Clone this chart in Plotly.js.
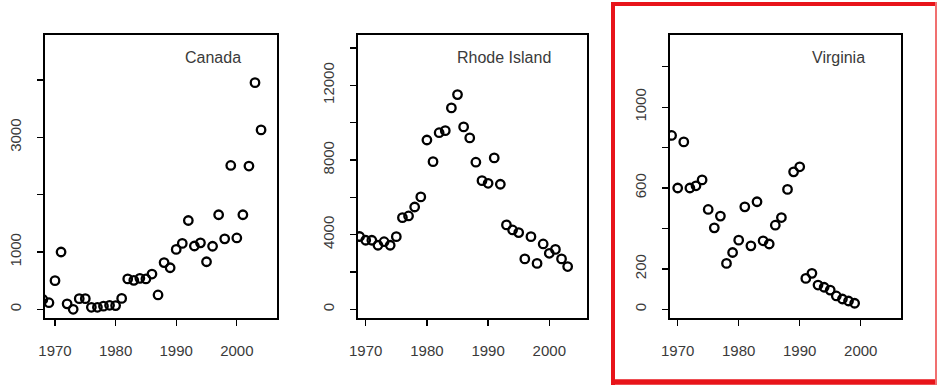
<!DOCTYPE html>
<html>
<head>
<meta charset="utf-8">
<script src="https://cdn.plot.ly/plotly-3.0.1.min.js"></script>
<style>html,body{margin:0;padding:0;background:#fff;}#chart{width:938px;height:387px;}</style>
</head>
<body>
<div id="chart"></div>
<script>
// ---- data ----
const canadaYears = [1968,1969,1970,1971,1972,1973,1974,1975,1976,1977,1978,1979,1980,1981,1982,1983,1984,1985,1986,1987,1988,1989,1990,1991,1992,1993,1994,1995,1996,1997,1998,1999,2000,2001,2002,2003,2004];
const canadaValues = [170,115,500,1000,95,0,185,185,35,35,55,70,65,190,530,505,540,530,615,250,815,725,1045,1150,1550,1105,1160,830,1100,1650,1230,2510,1245,1650,2500,3955,3130];

const rhodeYears = [1969,1970,1971,1972,1973,1974,1975,1976,1977,1978,1979,1980,1981,1982,1983,1984,1985,1986,1987,1988,1989,1990,1991,1992,1993,1994,1995,1996,1997,1998,1999,2000,2001,2002,2003];
const rhodeValues = [3900,3700,3700,3430,3620,3430,3890,4910,5000,5480,6020,9070,7910,9460,9570,10790,11500,9770,9180,7880,6890,6750,8110,6700,4520,4250,4110,2700,3890,2460,3500,3000,3210,2700,2290];

const virginiaYears = [1969,1970,1971,1972,1973,1974,1975,1976,1977,1978,1979,1980,1981,1982,1983,1984,1985,1986,1987,1988,1989,1990,1991,1992,1993,1994,1995,1996,1997,1998,1999];
const virginiaValues = [860,600,828,600,611,640,494,403,461,227,281,342,507,314,532,339,323,416,454,593,680,705,153,178,120,109,95,66,51,41,30];

const panelNames = ["Canada", "Rhode Island", "Virginia"];
const xTickVals = [1970, 1980, 1990, 2000];
const canadaTickVals = [0,1000,2000,3000,4000];
const canadaTickText = ["0","1000","","3000",""];
const rhodeTickVals = [0,2000,4000,6000,8000,10000,12000,14000];
const rhodeTickText = ["0","","4000","","8000","","12000",""];
const virginiaTickVals = [0,200,400,600,800,1000,1200];
const virginiaTickText = ["0","200","","600","","1000",""];

// ---- layout helpers (pixel geometry of the reference) ----
const W = 938, H = 387;
const px = v => v / W;
const py = v => (H - v) / H;
const boxTop = 35, boxBottom = 318;

const marker = {symbol: 'circle-open', size: 8.5, color: '#000', line: {width: 2.3, color: '#000'}};
const tickFont = {family: 'Liberation Sans, Arial, sans-serif', size: 15, color: '#3a3a3a'};

function xaxis(domain, range) {
  return {domain: domain, range: range, tickmode: 'array', tickvals: xTickVals,
    ticks: 'outside', ticklen: 6, tickwidth: 1.3, tickcolor: '#000',
    showline: true, mirror: true, linecolor: '#000', linewidth: 1.6,
    showgrid: false, zeroline: false, tickfont: tickFont, ticklabelstandoff: 12, fixedrange: true};
}
function yaxis(range, vals, text) {
  return {domain: [py(boxBottom), py(boxTop)], range: range, tickmode: 'array', tickvals: vals, ticktext: text,
    tickangle: -90, ticks: 'outside', ticklen: 6, tickwidth: 1.3, tickcolor: '#000',
    showline: true, mirror: true, linecolor: '#000', linewidth: 1.6,
    showgrid: false, zeroline: false, tickfont: tickFont, ticklabelstandoff: 10, fixedrange: true};
}

const traces = [
  {x: canadaYears, y: canadaValues, type: 'scatter', mode: 'markers', marker: marker, xaxis: 'x', yaxis: 'y', hoverinfo: 'x+y'},
  {x: rhodeYears, y: rhodeValues, type: 'scatter', mode: 'markers', marker: marker, xaxis: 'x2', yaxis: 'y2', hoverinfo: 'x+y'},
  {x: virginiaYears, y: virginiaValues, type: 'scatter', mode: 'markers', marker: marker, xaxis: 'x3', yaxis: 'y3', hoverinfo: 'x+y'}
];

const boxRights = [277, 587, 901];
const annFont = {family: 'Liberation Sans, Arial, sans-serif', size: 16, color: '#3a3a3a'};
const annotations = panelNames.map((n, i) => ({
  text: n, xref: 'paper', yref: 'paper', x: px(boxRights[i] - 34), y: py(57.5),
  xanchor: 'right', yanchor: 'middle', showarrow: false, font: annFont
}));

const red = '#e8141a';
const shapes = [
  {type: 'line', xref: 'paper', yref: 'paper', x0: px(613), x1: px(613), y0: py(2), y1: py(385), line: {color: red, width: 4}},
  {type: 'line', xref: 'paper', yref: 'paper', x0: px(611), x1: px(937), y0: py(4), y1: py(4), line: {color: red, width: 4}},
  {type: 'line', xref: 'paper', yref: 'paper', x0: px(611), x1: px(937), y0: py(382), y1: py(382), line: {color: red, width: 5.5}},
  {type: 'line', xref: 'paper', yref: 'paper', x0: px(936), x1: px(936), y0: py(2), y1: py(385), line: {color: '#f07070', width: 2}}
];

const layout = {
  width: W, height: H, margin: {l: 0, r: 0, t: 0, b: 0}, showlegend: false,
  paper_bgcolor: '#fff', plot_bgcolor: '#fff',
  font: {family: 'Liberation Sans, Arial, sans-serif'},
  xaxis: xaxis([px(45), px(277)], [1968.35, 2006.63]),
  yaxis: yaxis([-152, 4787], canadaTickVals, canadaTickText),
  xaxis2: Object.assign(xaxis([px(358), px(587)], [1968.74, 2006.16]), {anchor: 'y2'}),
  yaxis2: Object.assign(yaxis([-466, 14694], rhodeTickVals, rhodeTickText), {anchor: 'x2'}),
  xaxis3: Object.assign(xaxis([px(670), px(901)], [1968.74, 2006.6]), {anchor: 'y3'}),
  yaxis3: Object.assign(yaxis([-43, 1357], virginiaTickVals, virginiaTickText), {anchor: 'x3'}),
  annotations: annotations,
  shapes: shapes
};
layout.xaxis.anchor = 'y';
layout.yaxis.anchor = 'x';

Plotly.newPlot('chart', traces, layout, {displayModeBar: false, staticPlot: true});
</script>
</body>
</html>
